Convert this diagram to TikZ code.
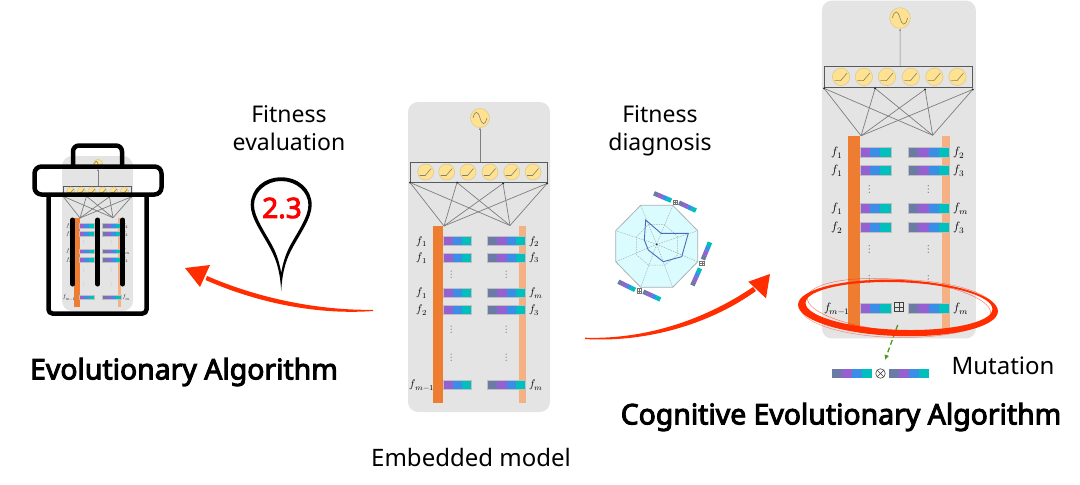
\documentclass[tikz,border=0pt]{standalone}
\usepackage{fontspec}
\setmainfont{Noto Sans}
\usepackage{unicode-math}
\setmathfont{Latin Modern Math}
\usetikzlibrary{arrows.meta}
\definecolor{panelc}{HTML}{E4E4E4}
\definecolor{neuronc}{HTML}{FFE291}
\definecolor{neuronb}{HTML}{DCCB94}
\definecolor{glyphc}{HTML}{85806A}
\definecolor{linkc}{HTML}{7E7E7E}
\definecolor{barA}{HTML}{EE7D31}
\definecolor{barB}{HTML}{F5B183}
\definecolor{cellS}{HTML}{6C7AA6}
\definecolor{cellP}{HTML}{9560D2}
\definecolor{cellB}{HTML}{3A8EE8}
\definecolor{cellT}{HTML}{00BFBC}
\definecolor{redink}{HTML}{FF2D00}
\definecolor{radarf}{HTML}{DBFCFE}
\definecolor{radarb}{HTML}{A9B2B4}
\definecolor{radard}{HTML}{4A6BB8}
\definecolor{mutg}{HTML}{4E9A1C}
\tikzset{x=1pt,y=-1pt,
 panelbox/.style={fill=panelc,rounded corners=10pt,draw=none},
 neuron/.style={circle,fill=neuronc,draw=neuronb,line width=.6pt,minimum size=#1,inner sep=0pt},
 link/.style={draw=linkc,line width=.7pt},
 celllab/.style={font=\fontsize{11}{11}\selectfont,inner sep=0pt},
 headtxt/.style={font=\fontsize{23}{28}\selectfont,inner sep=0pt,align=center},
 softtxt/.style={font=\fontsize{24}{28}\selectfont,inner sep=0pt,align=center},
 bigtxt/.style={font=\fontsize{28.4}{30}\selectfont\addfontfeatures{FakeBold=3.4},inner sep=0pt},
 vd/.style={font=\fontsize{11}{11}\selectfont,inner sep=0pt,text=black!55},
 binline/.style={black,line width=4.5pt},
 rowframe/.style={draw=black!25,line width=.4pt},
 radargrid/.style={radarb,line width=.5pt,dashed,dash pattern=on 1.5pt off 1pt},
 minisym/.style={draw=black!55,line width=.35pt,minimum size=4.5pt,inner sep=0pt,fill=white},
}
\newcommand{\leftcells}[1]{%
 \fill[cellP] (443,#1-4.5) rectangle (452.5,#1+4.5);
 \fill[cellB] (452.5,#1-4.5) rectangle (462,#1+4.5);
 \fill[cellT] (462,#1-4.5) rectangle (471.5,#1+4.5);
 \draw[rowframe] (443,#1-4.5) rectangle (471.5,#1+4.5);}
\newcommand{\rightcells}[1]{%
 \fill[cellS] (487.5,#1-4.5) rectangle (497,#1+4.5);
 \fill[cellP] (497,#1-4.5) rectangle (506.5,#1+4.5);
 \fill[cellB] (506.5,#1-4.5) rectangle (516,#1+4.5);
 \fill[cellT] (516,#1-4.5) rectangle (525.5,#1+4.5);
 \draw[rowframe] (487.5,#1-4.5) rectangle (525.5,#1+4.5);}
\newcommand{\modelrow}[3]{\leftcells{#1}\rightcells{#1}
 \node[celllab] at (422,#1+.5) {$#2$};
 \node[celllab,anchor=west] at (529,#1+.5) {$#3$};}
\newcommand{\modelblock}[2]{%
\begin{scope}[#2,transform shape]
 \fill[panelbox] (408,102) rectangle (550,412);
 \node[neuron=19pt] (#1out) at (480,118) {};
 \draw[glyphc,line width=.6pt] (473,118) .. controls (475,110) and (478,111) .. (480,118) .. controls (482,125) and (485,126) .. (487,118);
 \node[draw=black!65,line width=.9pt,minimum width=136.5pt,minimum height=19.5pt,inner sep=0pt] (#1hid) at (478.75,172.25) {};
 \foreach \i/\cx in {1/425.7,2/446.7,3/468,4/490,5/511.7,6/533}{
  \node[neuron=16pt] (#1n\i) at (\cx,172) {};
  \draw[glyphc,line width=.6pt] (\cx-6,175.5) -- (\cx-.5,175.5) -- (\cx+5.5,168.5);
 }
 \coordinate (#1a) at (410,182.5);
 \coordinate (#1b) at (457,182.5);
 \coordinate (#1c) at (503,183.5);
 \coordinate (#1d) at (547,183.5);
 \coordinate (#1l) at (444,226);
 \coordinate (#1r) at (510,225.5);
 \draw[link,-{Latex[length=2pt,width=2pt]}] (#1hid.north -| #1out) -- (#1out);
 \foreach \t in {a,b,c,d}{
  \draw[link] (#1l) -- (#1\t);
  \draw[link] (#1r) -- (#1\t);
  \fill[black!85] (#1\t) circle (1pt);
 }
 \fill[barA] (432.5,226) rectangle (443,403);
 \fill[barB] (519,226) rectangle (526,403);
 \modelrow{241}{f_1}{f_2}
 \modelrow{257.3}{f_1}{f_3}
 \modelrow{292.3}{f_1}{f_m}
 \modelrow{309.7}{f_2}{f_3}
 \modelrow{384.3}{f_{m-1}}{f_m}
 \foreach \dy in {275,330,358}{
  \node[vd] at (452,\dy) {$\vdots$};
  \node[vd] at (506.5,\dy) {$\vdots$};
 }
\end{scope}}
\newcommand{\slantcells}[4]{%
 \begin{scope}[shift={(#1,#2)},rotate=#3]
  \foreach \c [count=\k from 0] in {#4}{
   \fill[\c] (\k*4.65,-2.3) rectangle (\k*4.65+4.75,2.3);}
 \end{scope}}
\newcommand{\symnode}[3]{\node[minisym] (#1) at (#2,#3) {};
 \draw[black!55,line width=.3pt] (#1.north) -- (#1.south) (#1.west) -- (#1.east);}
\begin{document}
\begin{tikzpicture}
\useasboundingbox (0,0) rectangle (1080,485);
% ---- left model and bin
\modelblock{p}{shift={(-142,105)},scale=.5}
\draw[binline,rounded corners=4pt] (48.5,194.5) -- (48.5,313.5) -- (146.5,313.5) -- (146.5,194.5);
\draw[binline,rounded corners=6pt] (73,166.5) -- (73,145.5) -- (122,145.5) -- (122,166.5);
\draw[binline,rounded corners=7pt] (34.5,166.5) rectangle (161.5,194.5);
\foreach \x in {72.7,97.7,122.7}{\draw[black,line width=5pt,line cap=round] (\x,220) -- (\x,284);}
% ---- middle model
\modelblock{m}{}
% ---- right model
\modelblock{r}{shift={(379.2,-110.6)},xscale=1.085,yscale=1.09}
% mutation marks
\node[draw=black!75,line width=.6pt,minimum size=9.5pt,inner sep=0pt] (plusbox) at (899,307) {};
\draw[black!75,line width=.6pt] (plusbox.north) -- (plusbox.south) (plusbox.west) -- (plusbox.east);
\fill[cellS] (832,369) rectangle (842,378);
\fill[cellP] (842,369) rectangle (852,378);
\fill[cellB] (852,369) rectangle (862,378);
\fill[cellT] (862,369) rectangle (872,378);
\fill[cellS] (889,369) rectangle (899,378);
\fill[cellP] (899,369) rectangle (909,378);
\fill[cellB] (909,369) rectangle (919,378);
\fill[cellT] (919,369) rectangle (929,378);
\node[circle,draw=black!75,line width=.6pt,minimum size=9.5pt,inner sep=0pt] (timesc) at (880.5,373.5) {};
\draw[black!75,line width=.6pt] (timesc.45) -- (timesc.225) (timesc.135) -- (timesc.315);
\coordinate (mutA) at (897.7,325);
\coordinate (mutB) at (885,360);
\draw[mutg,line width=1.3pt,dashed,dash pattern=on 5pt off 3pt,-{Latex[length=5pt,width=5pt]}] (mutA) -- (mutB);
% ---- red ellipse
\fill[redink,even odd rule] (898,308) circle[x radius=100pt,y radius=28pt,rotate=-2]
  (899,306) circle[x radius=93.5pt,y radius=23.8pt,rotate=-2];
\draw[redink,line width=.5pt,opacity=.6] (899,305.5) circle[x radius=92pt,y radius=26pt,rotate=-5];
\draw[redink,line width=.5pt,opacity=.5] (898,308.5) circle[x radius=98pt,y radius=29pt,rotate=-1];
% ---- radar
\fill[radarf] (640.7,205.3) -- (672.7,205.3) -- (697.7,230.7) -- (697.7,261.7) -- (672.7,287.3) -- (640.7,287.3) -- (615.7,261.7) -- (615.7,230.7) -- cycle;
\foreach \vx/\vy in {640.7/205.3,672.7/205.3,697.7/230.7,697.7/261.7,672.7/287.3,640.7/287.3,615.7/261.7,615.7/230.7}{
 \draw[radargrid] (656.7,244.3) -- (\vx,\vy);}
\draw[radargrid] (648.5,224.5) -- (664.5,224.5) -- (677.7,236.7) -- (677.7,255) -- (664.5,265) -- (648.5,265) -- (636.7,255) -- (636.7,236.7) -- cycle;
\draw[radarb,line width=.8pt] (640.7,205.3) -- (672.7,205.3) -- (697.7,230.7) -- (697.7,261.7) -- (672.7,287.3) -- (640.7,287.3) -- (615.7,261.7) -- (615.7,230.7) -- cycle;
\draw[radard,line width=.9pt] (645.7,220) -- (661,233.3) -- (688.3,233.3) -- (681.7,256.7) -- (663.3,261.7) -- (648.3,250) -- (644.3,240) -- cycle;
\fill[black!80] (656.7,244.3) circle (1pt);
\slantcells{654}{193.3}{-23}{cellS,cellP,cellB,cellT}
\symnode{sa}{675}{202}
\slantcells{679}{202.7}{-25}{cellS,cellP,cellB,cellT}
\slantcells{710}{242.3}{-112.4}{cellT,cellB,cellP,cellS}
\symnode{sb}{701.7}{263.3}
\slantcells{700}{268.3}{-114}{cellT,cellB,cellP,cellS}
\slantcells{618.3}{281.7}{-26}{cellS,cellP,cellB,cellT}
\symnode{sc}{639}{290.7}
\slantcells{643.3}{291.7}{-24.5}{cellS,cellP,cellB,cellT}
% ---- pin
\fill[black,even odd rule] (281.2,177.3) .. controls (264,177.3) and (250.7,189) .. (250.7,205) .. controls (250.7,218) and (262,233) .. (270,248) .. controls (276,259) and (280,270) .. (281.2,291) .. controls (282.4,270) and (286.4,259) .. (292.4,248) .. controls (300.4,233) and (311.7,218) .. (311.7,205) .. controls (311.7,189) and (298.4,177.3) .. (281.2,177.3) -- cycle
 (281.2,181) .. controls (266,181) and (254,192) .. (254,205) .. controls (254,217) and (265,232) .. (273,247) .. controls (277,255) and (279.5,263) .. (281.2,273) .. controls (282.9,263) and (285.4,255) .. (289.4,247) .. controls (297.4,232) and (308.4,217) .. (308.4,205) .. controls (308.4,192) and (296.4,181) .. (281.2,181) -- cycle;
\node[font=\fontsize{28}{28}\selectfont\addfontfeatures{FakeBold=3.4},text=red,inner sep=0pt] (pinval) at (282,208) {2.3};
% ---- red arrows
\fill[redink] (373,309.8) .. controls (320,310.5) and (260,299) .. (207,276) -- (205.5,280) .. controls (260,304) and (320,315) .. (373,311) -- cycle;
\fill[redink] (185,268) -- (210,265) -- (200,287) -- cycle;
\fill[redink] (585,337.7) .. controls (640,339.5) and (700,323) .. (753,287) -- (756,291) .. controls (705,327.5) and (640,342.5) .. (585,339) -- cycle;
\fill[redink] (770,274) -- (748.3,281.7) -- (766,298.3) -- cycle;
% ---- texts
\node[headtxt] (tfe) at (289,128) {Fitness\\evaluation};
\node[headtxt] (tfd) at (660,131) {Fitness\\diagnosis};
\node[softtxt] (tem) at (471,457) {Embedded model};
\node[softtxt] (tmu) at (1003,366) {Mutation};
\node[bigtxt] (tea) at (184,372) {Evolutionary Algorithm};
\node[bigtxt] (tce) at (841,417) {Cognitive Evolutionary Algorithm};
\end{tikzpicture}
\end{document}
